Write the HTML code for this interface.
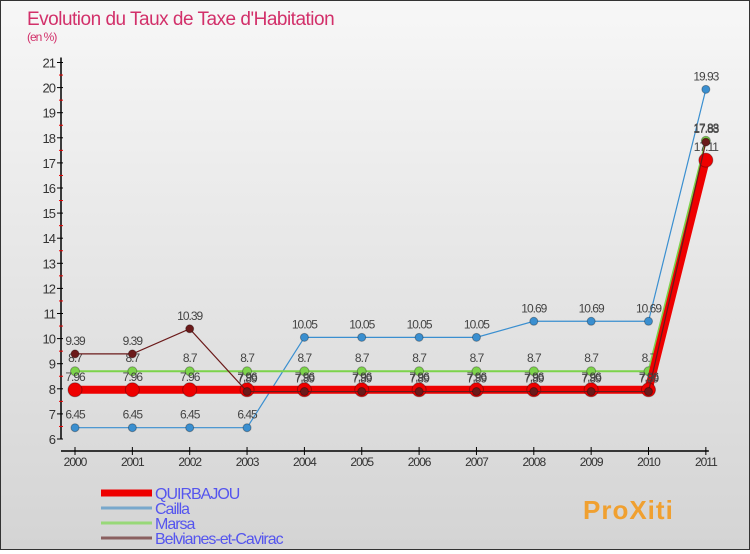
<!DOCTYPE html>
<html><head><meta charset="utf-8"><style>
body{margin:0;width:750px;height:550px;overflow:hidden;font-family:"Liberation Sans",sans-serif}
#wrap{position:relative;width:748px;height:548px;border:1px solid #333;background:linear-gradient(#f7f7f7,#d4d4d4)}
</style></head><body>
<div id="wrap">
<svg id="chart" width="748" height="548"></svg>
</div>
<script>
const years=["2000","2001","2002","2003","2004","2005","2006","2007","2008","2009","2010","2011"];
const quirbajou=[7.96,7.96,7.96,7.96,7.96,7.96,7.96,7.96,7.96,7.96,7.96,17.11];
const cailla=[6.45,6.45,6.45,6.45,10.05,10.05,10.05,10.05,10.69,10.69,10.69,19.93];
const marsa=[8.7,8.7,8.7,8.7,8.7,8.7,8.7,8.7,8.7,8.7,8.7,17.88];
const belvianes=[9.39,9.39,10.39,7.89,7.89,7.89,7.89,7.89,7.89,7.89,7.89,17.83];
const yTicks=[6,7,8,9,10,11,12,13,14,15,16,17,18,19,20,21];
const NS="http://www.w3.org/2000/svg";
const svg=document.getElementById('chart');
const X=i=>74+i*57.35;
const Y=v=>438-(v-6)*25.1;
function el(t,a,p){const e=document.createElementNS(NS,t);for(const k in a)e.setAttribute(k,a[k]);(p||svg).appendChild(e);return e;}
function txt(x,y,s,o){const e=el('text',Object.assign({x:x,y:y,'font-size':12,fill:'#333','letter-spacing':'-1'},o||{}));e.textContent=s;return e;}
let t=txt(26,24,"Evolution du Taux de Taxe d'Habitation",{'font-size':19,fill:'#d2306a','letter-spacing':'-0.5'});

t=txt(26,40,"(en %)",{'font-size':12,fill:'#d2306a'});

let a=el('line',{x1:60,y1:Y(21)-5,x2:60,y2:Y(6),stroke:'#000','stroke-width':1.5});

a=el('line',{x1:60,y1:450,x2:X(11)+3,y2:450,stroke:'#000','stroke-width':1.5});

yTicks.forEach(v=>{
  el('line',{x1:56,y1:Y(v),x2:62,y2:Y(v),stroke:'#000'});
  if(v<21)el('line',{x1:58,y1:Y(v+0.5),x2:62,y2:Y(v+0.5),stroke:'#e00'});
  const l=txt(54,Y(v)+5,String(v),{'text-anchor':'end','font-size':13});
  
});
years.forEach((yr,i)=>{
  el('line',{x1:X(i),y1:446,x2:X(i),y2:454,stroke:'#000'});
  const l=txt(X(i),465,yr,{'text-anchor':'middle','font-size':12});
  
});
function series(data,color,w,r,name,lab){
  const g=el('g',{});
  
  el('polyline',{points:data.map((v,i)=>X(i)+','+Y(v)).join(' '),fill:'none',stroke:color,'stroke-width':w},g);
  data.forEach((v,i)=>{
    const c=el('circle',{cx:X(i),cy:Y(v),r:r,fill:color,stroke:'rgba(0,0,0,0.3)'},g);
    
    if(lab){const l=txt(X(i),Y(v)-9,String(v),{'text-anchor':'middle',fill:'#444'},g);
    }
  });
}
series(cailla,'#3a8fd0',1.2,4,'cailla',true);
series(marsa,'#7cd34a',2,4.5,'marsa',true);
series(quirbajou,'#ee0000',8,7,'quirbajou',true);
series(belvianes,'#6b1a1a',1.2,4,'belvianes',true);
const leg=[['QUIRBAJOU','#ee0000',7],['Cailla','#78a8cc',3],['Marsa','#98d878',3],['Belvianes-et-Cavirac','#8a6060',3]];
leg.forEach((d,i)=>{
  const g=el('g',{});
  
  const y=492+i*15;
  el('line',{x1:100,y1:y,x2:151,y2:y,stroke:d[1],'stroke-width':d[2]},g);
  txt(154,y+6,d[0],{'font-size':16,fill:'#5555ee'},g);
});
t=txt(582,518,"ProXiti",{'font-size':26,'font-weight':'bold',fill:'#f0a030','letter-spacing':'1'});

</script>
</body></html>
